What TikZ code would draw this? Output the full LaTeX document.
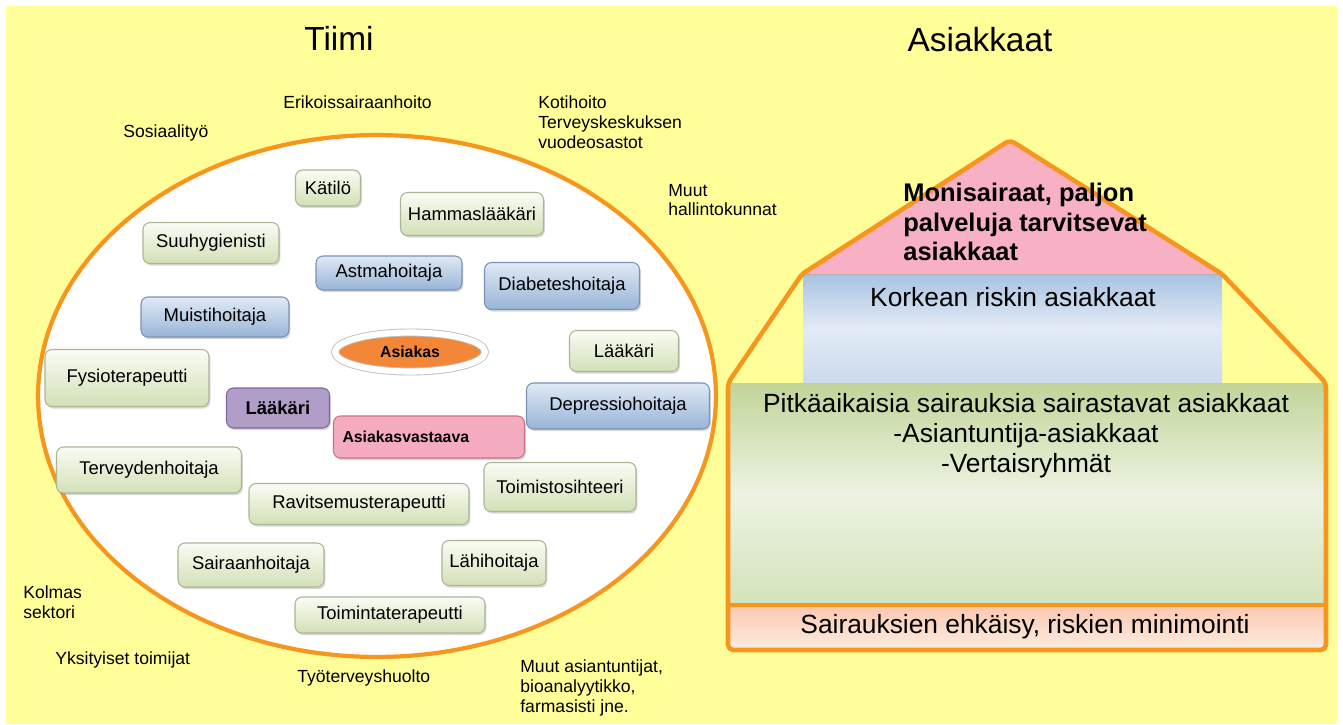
\documentclass[tikz,border=0pt]{standalone}
\usepackage{fontspec}
\setmainfont{Liberation Sans}
\usepackage{tikz}
\usetikzlibrary{shapes.geometric, shadows}

\definecolor{bgyellow}{RGB}{255,254,153}
\definecolor{ringorange}{RGB}{247,150,30}
\definecolor{cardgreenT}{RGB}{250,252,244}
\definecolor{cardgreenB}{RGB}{210,224,182}
\definecolor{cardgreenD}{RGB}{170,182,150}
\definecolor{cardblueT}{RGB}{224,233,245}
\definecolor{cardblueB}{RGB}{152,180,215}
\definecolor{cardblueD}{RGB}{122,146,180}
\definecolor{cardpurple}{RGB}{176,158,200}
\definecolor{cardpurpleD}{RGB}{128,100,162}
\definecolor{cardpink}{RGB}{246,172,192}
\definecolor{cardpinkD}{RGB}{205,110,130}
\definecolor{clientorange}{RGB}{242,135,55}
\definecolor{roofpink}{RGB}{247,176,196}
\definecolor{highblueT}{RGB}{168,194,225}
\definecolor{highblueM}{RGB}{226,235,246}
\definecolor{highblueB}{RGB}{204,218,238}
\definecolor{longgreenT}{RGB}{193,212,152}
\definecolor{longgreenM}{RGB}{237,243,226}
\definecolor{longgreenB}{RGB}{212,227,186}
\definecolor{preventT}{RGB}{250,200,176}
\definecolor{preventB}{RGB}{253,237,226}

\begin{document}
\begin{tikzpicture}[x=0.02cm, y=-0.02cm,
    card/.style={
        rectangle, rounded corners=4pt, line width=0.6pt,
        font=\fontsize{10.5}{12}\selectfont, inner sep=2pt,
        drop shadow={shadow xshift=0.8pt, shadow yshift=-1.2pt, opacity=0.3},
    },
    greencard/.style={card, draw=cardgreenD, top color=cardgreenT, bottom color=cardgreenB},
    bluecard/.style={card, draw=cardblueD, top color=cardblueT, bottom color=cardblueB},
    purplecard/.style={card, draw=cardpurpleD, fill=cardpurple, font=\fontsize{10.5}{12}\selectfont\bfseries},
    pinkcard/.style={card, draw=cardpinkD, fill=cardpink, font=\fontsize{9}{11}\selectfont\bfseries},
    lbl/.style={font=\fontsize{10}{11.3}\selectfont, anchor=west, align=left, inner sep=0pt},
    title/.style={font=\fontsize{19}{22}\selectfont, inner sep=0pt},
    level/.style={font=\fontsize{15}{17}\selectfont, align=center, inner sep=0pt},
    houseline/.style={draw=ringorange, line width=2.6pt, line join=round},
]

\useasboundingbox (0,0) rectangle (1343,724);
\fill[bgyellow] (6,6) rectangle (1337,724);

% TITLES
\node[title] (tiimi) at (339,38) {Tiimi};
\node[title] (asiakkaat) at (980,40) {Asiakkaat};

% OUTER LABELS
\node[lbl] (erikois) at (283,102) {Erikoissairaanhoito};
\node[lbl] (sosiaali) at (123,133) {Sosiaalityö};
\node[lbl] (koti) at (538,122) {Kotihoito\\Terveyskeskuksen\\vuodeosastot};
\node[lbl] (hallinto) at (668,200) {Muut\\hallintokunnat};
\node[lbl] (kolmas) at (23,602) {Kolmas\\sektori};
\node[lbl] (yksityiset) at (55,660) {Yksityiset toimijat};
\node[lbl] (tyoterveys) at (297,678) {Työterveyshuolto};
\node[lbl] (muut) at (520,688) {Muut asiantuntijat,\\bioanalyytikko,\\farmasisti jne.};

% TEAM ELLIPSE
\node[ellipse, draw=ringorange, line width=2.4pt, fill=white,
      minimum width=13.56cm, minimum height=10.44cm] (team) at (377,396) {};

\node[greencard, minimum width=1.30cm, minimum height=0.72cm] (katilo) at (328,188) {Kätilö};
\node[greencard, minimum width=2.86cm, minimum height=0.86cm] (hammas) at (472,214) {Hammaslääkäri};
\node[greencard, minimum width=2.72cm, minimum height=0.82cm] (suuhyg) at (211,243) {Suuhygienisti};
\node[bluecard, minimum width=2.92cm, minimum height=0.68cm] (astma) at (389,273) {Astmahoitaja};
\node[bluecard, minimum width=3.10cm, minimum height=0.94cm] (diabetes) at (562,286) {Diabeteshoitaja};
\node[bluecard, minimum width=2.96cm, minimum height=0.80cm] (muisti) at (215,317) {Muistihoitaja};
\node[ellipse, draw=black!25, line width=0.5pt, double=white, double distance=3.5pt,
      fill=clientorange, minimum width=3.0cm, minimum height=0.78cm,
      font=\fontsize{9}{10}\selectfont\bfseries,
      drop shadow={shadow xshift=0.6pt, shadow yshift=-1.2pt, opacity=0.25}] (asiakas) at (410,352) {Asiakas};
\node[greencard, minimum width=2.18cm, minimum height=0.82cm] (laakari) at (624,351) {Lääkäri};
\node[greencard, minimum width=3.28cm, minimum height=1.14cm] (fysio) at (127,378) {Fysioterapeutti};
\node[purplecard, minimum width=2.06cm, minimum height=0.80cm] (laakari2) at (278,408) {Lääkäri};
\node[bluecard, minimum width=3.66cm, minimum height=0.92cm] (depressio) at (618,406) {Depressiohoitaja};
\node[pinkcard, minimum height=0.84cm, text width=3.46cm, inner xsep=0.18cm, align=left] (vastaava) at (429,437) {Asiakasvastaava};
\node[greencard, minimum width=3.70cm, minimum height=0.92cm] (terveyden) at (149,470) {Terveydenhoitaja};
\node[greencard, minimum width=3.04cm, minimum height=0.98cm] (toimisto) at (560,487) {Toimistosihteeri};
\node[greencard, minimum width=4.40cm, minimum height=0.82cm] (ravitsemus) at (359,504) {Ravitsemusterapeutti};
\node[greencard, minimum width=2.92cm, minimum height=0.88cm] (sairaan) at (251,565) {Sairaanhoitaja};
\node[greencard, minimum width=2.08cm, minimum height=0.90cm] (lahi) at (494,563) {Lähihoitaja};
\node[greencard, minimum width=3.80cm, minimum height=0.72cm] (toiminta) at (390,615) {Toimintaterapeutti};

% HOUSE
\fill[roofpink] (1010,142) -- (804,274) -- (1220,274) -- cycle;
\shade[top color=highblueT, bottom color=highblueB, middle color=highblueM] (803,274) rectangle (1222,383);
\shade[top color=longgreenT, bottom color=longgreenB, middle color=longgreenM] (728,383) rectangle (1326,605);
\shade[top color=preventT, bottom color=preventB] (728,605) rectangle (1326,650);
\draw[draw=black!30, line width=0.4pt] (804,274) -- (1220,274);
\draw[houseline] (728,605) -- (1326,605);
\draw[houseline, rounded corners=3pt] (1010,140) -- (802,274) -- (728,383) -- (728,650)
    -- (1326,650) -- (1326,383) -- (1222,274) -- cycle;

\node[level, font=\fontsize{14.5}{17}\selectfont\bfseries, anchor=west, align=left] (moni) at (903,222)
    {Monisairaat, paljon\\palveluja tarvitsevat\\asiakkaat};
\node[level] (korkea) at (1013,297) {Korkean riskin asiakkaat};
\node[level] (pitka) at (1026,436) {Pitkäaikaisia sairauksia sairastavat asiakkaat\\-Asiantuntija-asiakkaat\\-Vertaisryhmät};
\node[level] (ehkaisy) at (1025,627) {Sairauksien ehkäisy, riskien minimointi};

\end{tikzpicture}
\end{document}
